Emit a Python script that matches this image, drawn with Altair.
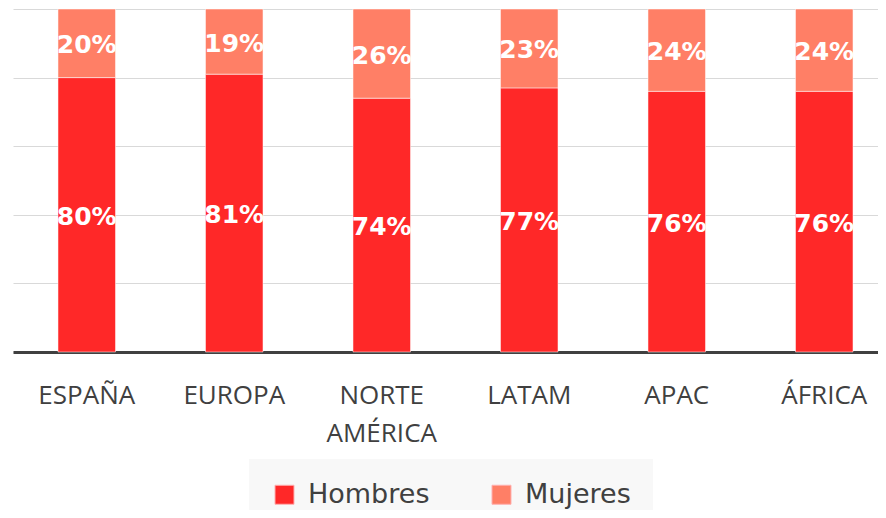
import altair as alt
import pandas as pd

categories = ["ESPAÑA", "EUROPA", "NORTE AMÉRICA", "LATAM", "APAC", "ÁFRICA"]
hombres = [80, 81, 74, 77, 76, 76]
mujeres = [20, 19, 26, 23, 24, 24]
series = ["Hombres", "Mujeres"]
colors = ["#FF2828", "#FF7F66"]

rows = []
for i, c in enumerate(categories):
    rows.append({"cat": c, "sexo": series[0], "value": hombres[i], "ord": 0})
    rows.append({"cat": c, "sexo": series[1], "value": mujeres[i], "ord": 1})
df = pd.DataFrame(rows)

xscale = alt.Scale(domain=categories, range=[0, 885], paddingInner=0.61, paddingOuter=0.305)
yscale = alt.Scale(domain=[0, 100], nice=False)

base = alt.Chart(df)

bars = base.mark_bar(stroke="#ffffff", strokeWidth=1, strokeOpacity=0.5).encode(
    x=alt.X("cat:N", scale=xscale, sort=categories, title=None,
            axis=alt.Axis(labelAngle=0, labelFont="Open Sans", labelFontSize=26,
                          labelColor="#404040", ticks=False, tickSize=0,
                          labelPadding=30, labelLineHeight=38,
                          labelExpr="split(datum.label, ' ')",
                          domainColor="#404040", domainWidth=3, grid=False,
                          labelLimit=300)),
    y=alt.Y("value:Q", stack="zero", scale=yscale, title=None,
            axis=alt.Axis(values=[0, 20, 40, 60, 80, 100], labels=False, ticks=False,
                          domain=False, grid=True, gridColor="#d9d9d9", gridWidth=1)),
    color=alt.Color("sexo:N", scale=alt.Scale(domain=series, range=colors), title=None,
                    legend=alt.Legend(orient="none", legendX=236, legendY=450,
                                      direction="horizontal", fillColor="#f8f8f8",
                                      padding=22, symbolType="square", symbolSize=361,
                                      symbolStrokeWidth=1, symbolStrokeColor="#ffb0b0",
                                      labelFont="DejaVu Sans", labelFontSize=27,
                                      labelColor="#404040", labelOffset=10,
                                      columnPadding=58, labelLimit=300)),
    order=alt.Order("ord:Q"),
)

labels = base.transform_stack(
    stack="value", groupby=["cat"], sort=[alt.SortField("ord")], as_=["y0", "y1"]
).transform_calculate(
    mid="(datum.y0 + datum.y1) / 2", txt="datum.value + '%'"
).mark_text(font="DejaVu Sans", fontWeight="bold", fontSize=25, color="white",
            baseline="middle", dy=2).encode(
    x=alt.X("cat:N", scale=xscale, sort=categories),
    y=alt.Y("mid:Q", scale=yscale),
    text="txt:N",
)

chart = alt.layer(bars, labels).properties(
    width=865, height=343,
    autosize=alt.AutoSizeParams(type="none"),
    padding={"left": 5, "top": 1, "right": 0, "bottom": 158},
).configure_view(stroke=None)

chart.save("out.html", embed_options={"renderer": "svg", "actions": False})
